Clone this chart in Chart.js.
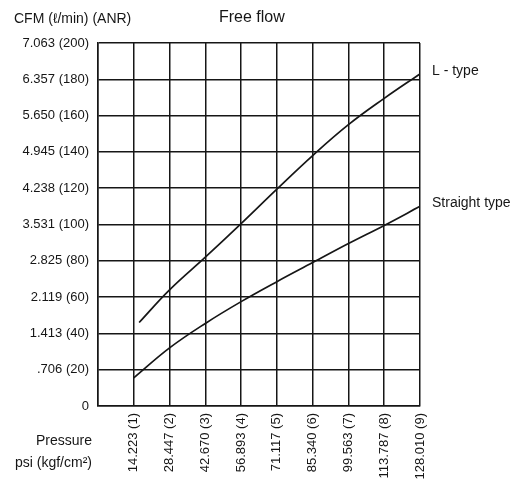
<!DOCTYPE html>
<html>
<head>
<meta charset="utf-8">
<script src="https://cdn.jsdelivr.net/npm/chart.js@4.4.0/dist/chart.umd.min.js"></script>
<style>
  html, body { margin: 0; padding: 0; background: #fff; }
  #wrap { width: 516px; height: 485px; }
</style>
</head>
<body>
<div id="wrap"><canvas id="canvas" width="516" height="485"></canvas></div>
<script>
// pressure in kgf/cm2 (x) and flow in l/min (y)
var lTypeX = [1.15, 2, 3, 4, 5, 6, 7, 8, 9];
var lTypeFlow = [46, 64, 82, 100.5, 119.5, 138, 155, 169.5, 183];
var straightX = [1, 2, 3, 4, 5, 6, 7, 8, 9];
var straightFlow = [15.5, 32, 45.5, 57.5, 68.5, 79, 89.5, 99.5, 110];

var yTickLabels = ['0', '.706 (20)', '1.413 (40)', '2.119 (60)', '2.825 (80)', '3.531 (100)',
  '4.238 (120)', '4.945 (140)', '5.650 (160)', '6.357 (180)', '7.063 (200)'];
var xTickLabels = ['', '14.223 (1)', '28.447 (2)', '42.670 (3)', '56.893 (4)', '71.117 (5)',
  '85.340 (6)', '99.563 (7)', '113.787 (8)', '128.010 (9)'];
var seriesNames = ['L - type', 'Straight type'];

function pts(xs, ys) {
  return xs.map(function(x, i) { return { x: x, y: ys[i] }; });
}

var ink = '#161616';
var fontFamily = '"Liberation Sans", Arial, sans-serif';

var textPlugin = {
  id: 'texts',
  afterDraw: function(chart) {
    var ctx = chart.ctx;
    ctx.save();
    ctx.fillStyle = ink;
    ctx.textBaseline = 'middle';
    ctx.textAlign = 'left';
    ctx.font = '14px ' + fontFamily;
    ctx.fillText('CFM (\u2113/min) (ANR)', 14, 19);
    ctx.font = '16px ' + fontFamily;
    ctx.fillText('Free flow', 219, 18);
    ctx.font = '14px ' + fontFamily;
    ctx.textAlign = 'right';
    ctx.fillText('Pressure', 92, 441);
    ctx.fillText('psi (kgf/cm\u00b2)', 92, 463);
    // series labels next to the line ends
    ctx.textAlign = 'left';
    chart.data.datasets.forEach(function(ds, i) {
      var meta = chart.getDatasetMeta(i);
      var last = meta.data[meta.data.length - 1];
      ctx.fillText(seriesNames[i], last.x + 12, last.y - 3);
    });
    ctx.restore();
  }
};

var ctx = document.getElementById('canvas').getContext('2d');
var chart = new Chart(ctx, {
  type: 'line',
  data: {
    datasets: [{
      label: seriesNames[0],
      data: pts(lTypeX, lTypeFlow),
      borderColor: ink,
      borderWidth: 1.7,
      pointRadius: 0,
      fill: false,
      tension: 0.4
    }, {
      label: seriesNames[1],
      data: pts(straightX, straightFlow),
      borderColor: ink,
      borderWidth: 1.7,
      pointRadius: 0,
      fill: false,
      tension: 0.4
    }]
  },
  options: {
    responsive: false,
    animation: false,
    layout: { padding: { top: 43, right: 96, left: 0, bottom: 0 } },
    plugins: {
      legend: { display: false },
      title: { display: false },
      tooltip: { enabled: false }
    },
    scales: {
      x: {
        type: 'linear',
        min: 0,
        max: 9,
        afterBuildTicks: function(scale) {
          scale.ticks = xTickLabels.map(function(l, i) { return { value: i }; });
        },
        afterFit: function(scale) { scale.height = 79; },
        grid: { color: ink, lineWidth: 1.5, drawTicks: false },
        border: { color: ink, width: 1.5 },
        ticks: {
          autoSkip: false,
          minRotation: 90,
          maxRotation: 90,
          padding: 7,
          color: ink,
          font: { family: fontFamily, size: 13 },
          callback: function(value) { return xTickLabels[value]; }
        }
      },
      y: {
        type: 'linear',
        min: 0,
        max: 200,
        afterBuildTicks: function(scale) {
          scale.ticks = yTickLabels.map(function(l, i) { return { value: i * 20 }; });
        },
        afterFit: function(scale) { scale.width = 98; },
        grid: { color: ink, lineWidth: 1.5, drawTicks: false },
        border: { color: ink, width: 1.5 },
        ticks: {
          padding: 9,
          color: ink,
          font: { family: fontFamily, size: 13 },
          callback: function(value) { return yTickLabels[value / 20]; }
        }
      }
    }
  },
  plugins: [textPlugin]
});
</script>
</body>
</html>
